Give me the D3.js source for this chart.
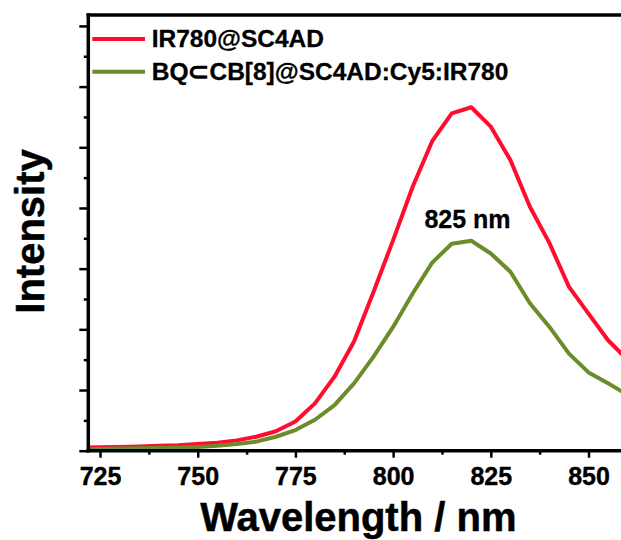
<!DOCTYPE html>
<html>
<head>
<meta charset="utf-8">
<script src="https://cdn.jsdelivr.net/npm/d3@7"></script>
<style>
  html, body { margin: 0; padding: 0; background: #fff; overflow: hidden; }
  svg { display: block; font-family: "Liberation Sans", Arial, sans-serif; font-weight: bold; }
</style>
</head>
<body>
<svg id="chart" width="621" height="540"></svg>
<script>
// Emission spectra, sampled every 5 nm (arbitrary intensity units)
const wavelengths = [720, 725, 730, 735, 740, 745, 750, 755, 760, 765, 770, 775, 780, 785, 790,
                     795, 800, 805, 810, 815, 820, 825, 830, 835, 840, 845, 850, 855, 860];
const ir780 = [0.05, 0.055, 0.06, 0.07, 0.08, 0.09, 0.11, 0.13, 0.17, 0.23, 0.32, 0.48, 0.78, 1.22, 1.80,
               2.62, 3.47, 4.35, 5.10, 5.56, 5.66, 5.34, 4.79, 4.02, 3.42, 2.70, 2.26, 1.82, 1.50];
const cascade = [0.03, 0.03, 0.035, 0.04, 0.045, 0.05, 0.06, 0.08, 0.11, 0.15, 0.23, 0.34, 0.51, 0.75, 1.11,
                 1.55, 2.04, 2.59, 3.10, 3.41, 3.46, 3.25, 2.95, 2.43, 2.04, 1.60, 1.29, 1.11, 0.92];
const seriesNames = ["IR780@SC4AD", "BQ\u2282CB[8]@SC4AD:Cy5:IR780"];
const seriesColors = ["#ff0c2e", "#6b8c2b"];
const xTicks = [725, 750, 775, 800, 825, 850];
const peakLabel = "825 nm";

const svg = d3.select("#chart");

const x = d3.scaleLinear().domain([722, 860]).range([88.3, 627.6]);
const y = d3.scaleLinear().domain([0, 7.18]).range([450.7, 15]);

const plotLeft = x.range()[0], plotRight = x.range()[1];
const plotTop = y.range()[1], plotBottom = y.range()[0];

svg.append("defs").append("clipPath").attr("id", "plot-clip")
  .append("rect").attr("x", plotLeft).attr("y", plotTop)
  .attr("width", plotRight - plotLeft).attr("height", plotBottom - plotTop);

// Curves
const line = d3.line().x((d, i) => x(wavelengths[i])).y(d => y(d));
const plot = svg.append("g").attr("clip-path", "url(#plot-clip)");
[ir780, cascade].forEach((vals, k) => {
  plot.append("path")
    .datum(vals)
    .attr("d", line)
    .attr("fill", "none")
    .attr("stroke", seriesColors[k])
    .attr("stroke-width", 4)
    .attr("stroke-linejoin", "round");
});

// Bottom axis: major ticks with labels, minor ticks between
const xAxis = svg.append("g").attr("transform", `translate(0,${plotBottom})`)
  .call(d3.axisBottom(x).tickValues(xTicks).tickSize(7).tickPadding(10).tickFormat(d3.format("d")));
xAxis.select(".domain").remove();
xAxis.selectAll(".tick line").attr("stroke", "#000").attr("stroke-width", 2.5);
xAxis.selectAll(".tick text")
  .attr("font-size", 25).attr("font-weight", "bold").attr("font-family", "Liberation Sans, Arial, sans-serif")
  .attr("fill", "#000").attr("stroke", "#000").attr("stroke-width", 0.4);

const xMinor = svg.append("g").attr("transform", `translate(0,${plotBottom})`)
  .call(d3.axisBottom(x).tickValues(xTicks.map(t => t + 12.5)).tickSize(4).tickFormat(""));
xMinor.select(".domain").remove();
xMinor.selectAll(".tick line").attr("stroke", "#000").attr("stroke-width", 2.5);

// Left axis: unlabeled major and minor ticks
const yMajor = d3.range(0, 8, 1);
const yAxis = svg.append("g").attr("transform", `translate(${plotLeft},0)`)
  .call(d3.axisLeft(y).tickValues(yMajor).tickSize(9).tickFormat(""));
yAxis.select(".domain").remove();
yAxis.selectAll(".tick line").attr("stroke", "#000").attr("stroke-width", 2.5);

const yMinorAxis = svg.append("g").attr("transform", `translate(${plotLeft},0)`)
  .call(d3.axisLeft(y).tickValues(yMajor.slice(0, -1).map(v => v + 0.5)).tickSize(4.5).tickFormat(""));
yMinorAxis.select(".domain").remove();
yMinorAxis.selectAll(".tick line").attr("stroke", "#000").attr("stroke-width", 2.5);

// Frame
const frame = svg.append("g").attr("stroke", "#000").attr("stroke-width", 3.5).attr("stroke-linecap", "square");
frame.append("line").attr("x1", plotLeft).attr("x2", plotRight).attr("y1", plotBottom).attr("y2", plotBottom);
frame.append("line").attr("x1", plotLeft).attr("x2", plotRight).attr("y1", plotTop).attr("y2", plotTop);
frame.append("line").attr("x1", plotLeft).attr("x2", plotLeft).attr("y1", plotTop).attr("y2", plotBottom);
frame.append("line").attr("x1", plotRight).attr("x2", plotRight).attr("y1", plotTop).attr("y2", plotBottom);

// Axis titles
svg.append("text")
  .attr("x", 358.3).attr("y", 531)
  .attr("text-anchor", "middle").attr("font-size", 40).attr("fill", "#000")
  .attr("stroke", "#000").attr("stroke-width", 0.5)
  .text("Wavelength / nm");

svg.append("text")
  .attr("transform", "translate(44,231.5) rotate(-90)")
  .attr("text-anchor", "middle").attr("font-size", 40).attr("fill", "#000")
  .attr("stroke", "#000").attr("stroke-width", 0.5)
  .text("Intensity");

// Peak annotation
svg.append("text")
  .attr("x", 467.5).attr("y", 228)
  .attr("text-anchor", "middle").attr("font-size", 25).attr("fill", "#000")
  .attr("stroke", "#000").attr("stroke-width", 0.3)
  .text(peakLabel);

// Legend
const legend = svg.append("g");
seriesNames.forEach((name, k) => {
  const ly = 39 + k * 32.7;
  legend.append("line")
    .attr("x1", 92.3).attr("x2", 145).attr("y1", ly).attr("y2", ly)
    .attr("stroke", seriesColors[k]).attr("stroke-width", 4);
  legend.append("text")
    .attr("x", 151.7).attr("y", ly + 8.3)
    .attr("font-size", 24.5).attr("fill", "#000")
    .attr("stroke", "#000").attr("stroke-width", 0.3)
    .text(name);
});
</script>
</body>
</html>
